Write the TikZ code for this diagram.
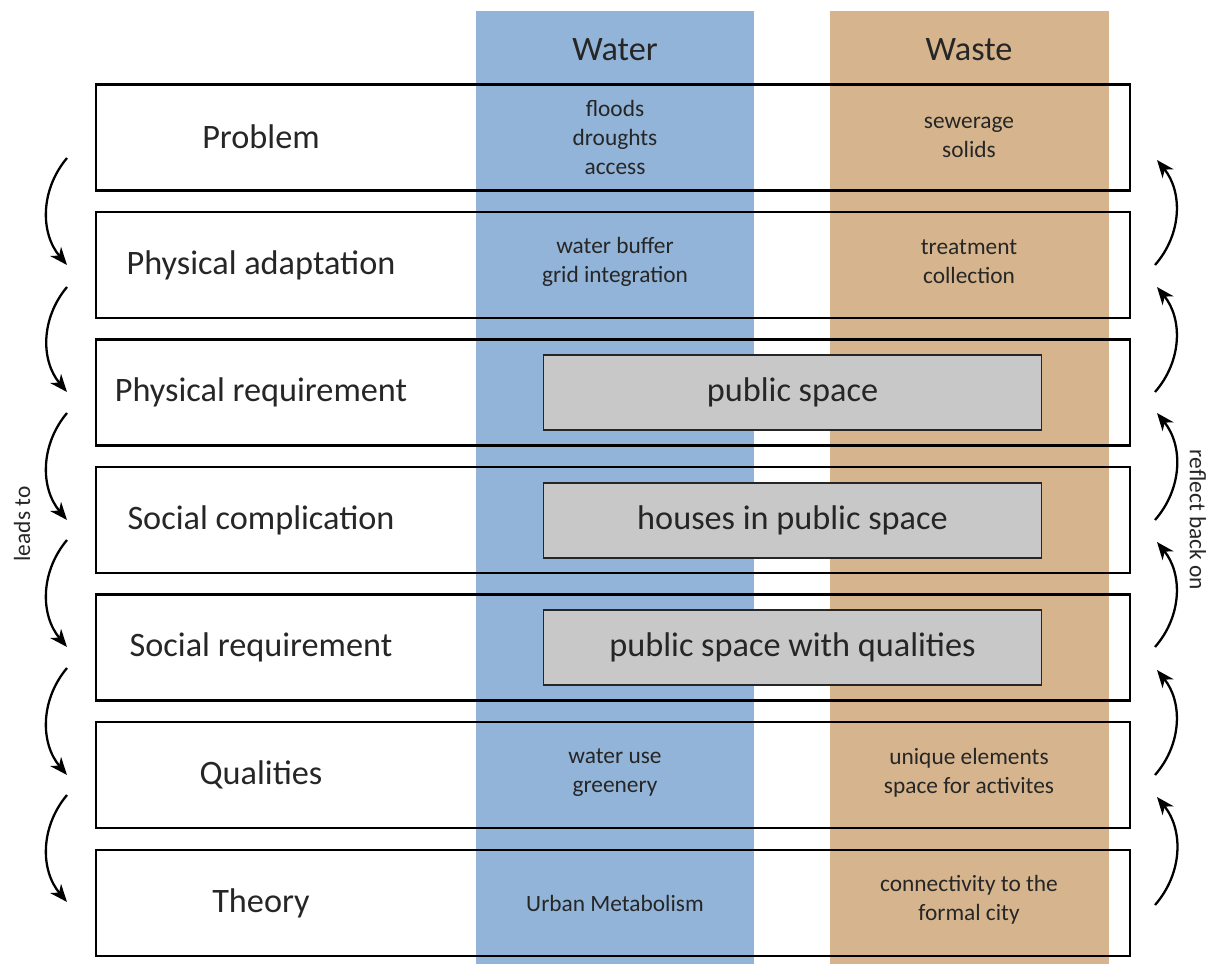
\documentclass[tikz,border=0pt]{standalone}
\usepackage{fontspec}
\setmainfont{Carlito}
\usepackage{tikz}
\usetikzlibrary{arrows.meta}
\definecolor{waterblue}{RGB}{146,180,216}
\definecolor{wastetan}{RGB}{214,181,142}
\definecolor{boxgray}{RGB}{200,200,200}
\definecolor{txt}{RGB}{38,38,38}

\tikzset{
  rowbox/.style={draw=black, line width=1.2pt, minimum width=20.68cm, minimum height=2.12cm},
  pubbox/.style={draw=txt, fill=boxgray, line width=0.6pt, minimum width=9.98cm, minimum height=1.5cm,
                 text=txt, font=\fontsize{19.5}{22}\selectfont},
  rowlabel/.style={text=txt, font=\fontsize{19.5}{22}\selectfont},
  celltext/.style={text=txt, align=center, font=\fontsize{13.3}{16.5}\selectfont},
  colhead/.style={text=txt, font=\fontsize{19.5}{22}\selectfont},
  sidetext/.style={text=txt, font=\fontsize{13.3}{15}\selectfont},
  flow/.style={line width=1.3pt, -{Stealth[length=10pt, width=8pt, inset=3pt]}}
}

\begin{document}
\begin{tikzpicture}[x=0.02cm, y=-0.02cm]
    \useasboundingbox (0,0) rectangle (1217,964);

    % columns
    \fill[waterblue] (476,11) rectangle (754,964);
    \fill[wastetan]  (830,11) rectangle (1109,964);
    \node[colhead](water) at (615,50) {Water};
    \node[colhead](waste) at (969,50) {Waste};

    % rows
    \node[rowbox](prob)  at (613,137.5) {};
    \node[rowbox](padapt) at (613,265) {};
    \node[rowbox](preq)  at (613,392.5) {};
    \node[rowbox](scomp) at (613,520) {};
    \node[rowbox](sreq)  at (613,647.5) {};
    \node[rowbox](qual)  at (613,775) {};
    \node[rowbox](theo)  at (613,903) {};

    \node[rowlabel] at (261,137) {Problem};
    \node[rowlabel] at (261,265) {Physical adaptation};
    \node[rowlabel] at (261,392) {Physical requirement};
    \node[rowlabel] at (261,520) {Social complication};
    \node[rowlabel] at (261,647) {Social requirement};
    \node[rowlabel] at (261,775) {Qualities};
    \node[rowlabel] at (261,903) {Theory};

    % cell texts
    \node[celltext](probw) at (615,137) {floods\\droughts\\access};
    \node[celltext](probs) at (969,137) {sewerage\\solids};
    \node[celltext](adaw)  at (615,262) {water buffer\\grid integration};
    \node[celltext](adas)  at (969,262) {treatment\\collection};
    \node[celltext](qualw) at (615,773) {water use\\greenery};
    \node[celltext](quals) at (969,773) {unique elements\\space for activites};
    \node[celltext](theow) at (615,903) {Urban Metabolism};
    \node[celltext](theos) at (969,900) {connectivity to the\\formal city};

    \node[pubbox](pub)  at (792.5,392.5) {public space};
    \node[pubbox](hous) at (792.5,520.5) {houses in public space};
    \node[pubbox](qpub) at (792.5,647.5) {public space with qualities};

    % left arrows
    \coordinate (l1) at (67,158);  \coordinate (l2) at (67,265);
    \coordinate (l3) at (67,287);  \coordinate (l4) at (67,392);
    \coordinate (l5) at (67,413);  \coordinate (l6) at (67,520);
    \coordinate (l7) at (67,540);  \coordinate (l8) at (67,647);
    \coordinate (l9) at (67,668);  \coordinate (l10) at (67,775);
    \coordinate (l11) at (67,795); \coordinate (l12) at (67,902);
    \draw[flow] (l1)  to[bend right=40] (l2);
    \draw[flow] (l3)  to[bend right=40] (l4);
    \draw[flow] (l5)  to[bend right=40] (l6);
    \draw[flow] (l7)  to[bend right=40] (l8);
    \draw[flow] (l9)  to[bend right=40] (l10);
    \draw[flow] (l11) to[bend right=40] (l12);
    \node[sidetext, rotate=90](leads) at (22,524) {leads to};

    % right arrows
    \coordinate (r1) at (1155,265);  \coordinate (r2) at (1157,160);
    \coordinate (r3) at (1155,392);  \coordinate (r4) at (1157,287);
    \coordinate (r5) at (1155,520);  \coordinate (r6) at (1157,413);
    \coordinate (r7) at (1155,647);  \coordinate (r8) at (1157,542);
    \coordinate (r9) at (1155,775);  \coordinate (r10) at (1157,670);
    \coordinate (r11) at (1155,905); \coordinate (r12) at (1157,797);
    \draw[flow] (r1)  to[bend right=40] (r2);
    \draw[flow] (r3)  to[bend right=40] (r4);
    \draw[flow] (r5)  to[bend right=40] (r6);
    \draw[flow] (r7)  to[bend right=40] (r8);
    \draw[flow] (r9)  to[bend right=40] (r10);
    \draw[flow] (r11) to[bend right=40] (r12);
    \node[sidetext, rotate=-90](reflect) at (1198,520) {reflect back on};
\end{tikzpicture}
\end{document}
